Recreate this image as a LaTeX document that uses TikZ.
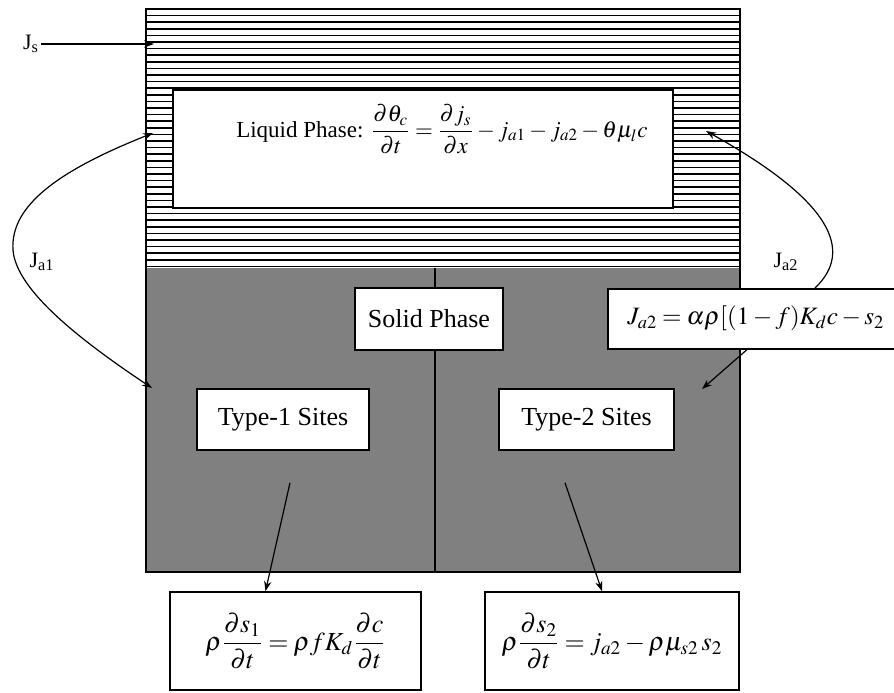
\documentclass[tikz,border=0pt]{standalone}
\usepackage{amsmath}
\usepackage{mathptmx}
\usepackage{fontspec}
\setmainfont{Liberation Serif}
\usetikzlibrary{arrows.meta}
\begin{document}
\begin{tikzpicture}[x=0.5pt,y=-0.5pt,
  boxnode/.style={draw=black, line width=0.8pt, fill=white, inner sep=0pt, font=\fontsize{13}{15}\selectfont},
  txt/.style={font=\fontsize{13}{15}\selectfont, inner sep=0pt},
  lbl/.style={font=\fontsize{11}{13}\selectfont, inner sep=1pt},
  conn/.style={line width=0.6pt, -{Stealth[length=5pt,width=3.6pt]}},
  hatchline/.style={line width=0.85pt},
]
\medmuskip=2.5mu \thickmuskip=3.5mu
\useasboundingbox (0,0) rectangle (894,692);
% liquid region: horizontal hatching
\foreach \i in {0,...,39} \draw[hatchline] (146,{9+\i*6.6}) -- (740,{9+\i*6.6});
% solid region: stipple
\fill[black!50] (146,268) rectangle (740,572);
\draw[line width=1pt] (146,8) -- (146,572) -- (740,572) -- (740,8);
\draw[line width=1pt] (435,268) -- (435,572);
% boxes
\node[boxnode, minimum width=250pt, minimum height=59pt] (liq) at (423,149) {};
\node[txt, font=\fontsize{11.5}{14}\selectfont] (liqtxt) at (442,129) {Liquid Phase: $\dfrac{\partial\theta_c}{\partial t}=\dfrac{\partial j_s}{\partial x}-j_{a1}-j_{a2}-\theta\mu_l c$};
\node[boxnode, minimum width=74pt, minimum height=31pt] (solid) at (429,319) {Solid Phase};
\node[boxnode, minimum width=151.5pt, minimum height=30pt, anchor=north west] (ja2box) at (607,288) {};
\node[txt, anchor=west, font=\fontsize{12.5}{15}\selectfont] (ja2txt) at (627,318) {$J_{a2}=\alpha\rho[(1-f)K_d c-s_2$};
\node[boxnode, minimum width=86pt, minimum height=30.5pt] (t1) at (283,419.5) {Type-1 Sites};
\node[boxnode, minimum width=87.5pt, minimum height=30.5pt] (t2) at (586.5,419.5) {Type-2 Sites};
\node[boxnode, minimum width=125.5pt, minimum height=49pt] (bl) at (295.5,641) {$\rho\dfrac{\partial s_1}{\partial t}=\rho f K_d\dfrac{\partial c}{\partial t}$};
\node[boxnode, minimum width=127pt, minimum height=49pt] (br) at (612,641) {$\rho\dfrac{\partial s_2}{\partial t}=j_{a2}-\rho\mu_{s2}\,s_2$};
% labels
\node[lbl] (js) at (31,44) {J\textsubscript{s}};
\node[lbl] (ja1) at (42,262) {J\textsubscript{a1}};
\node[lbl] (ja2) at (786,262) {J\textsubscript{a2}};
% coordinates
\coordinate (jsend) at (154,44);
\coordinate (a1top) at (153,133);
\coordinate (a1bot) at (152,388);
\coordinate (a2top) at (706,131);
\coordinate (a2bot) at (702,389);
% connectors
\draw[conn] (js.east) -- (jsend);
\draw[line width=0.6pt, {Stealth[length=5pt,width=3.6pt]}-{Stealth[length=5pt,width=3.6pt]}]
  (a1top) .. controls (60,170) and (10,205) .. (13,250) .. controls (16,290) and (80,340) .. (a1bot);
\draw[conn] ([xshift=104pt]ja2box.north west) .. controls (855,250) and (830,200) .. (a2top);
\draw[conn] ([xshift=70pt]ja2box.south west) -- (a2bot);
\draw[conn] ([xshift=3.5pt,yshift=-16pt]t1.south) -- ([xshift=-15pt]bl.north);
\draw[conn] ([xshift=-10.75pt,yshift=-16pt]t2.south) -- ([xshift=-5pt]br.north);
\end{tikzpicture}
\end{document}
